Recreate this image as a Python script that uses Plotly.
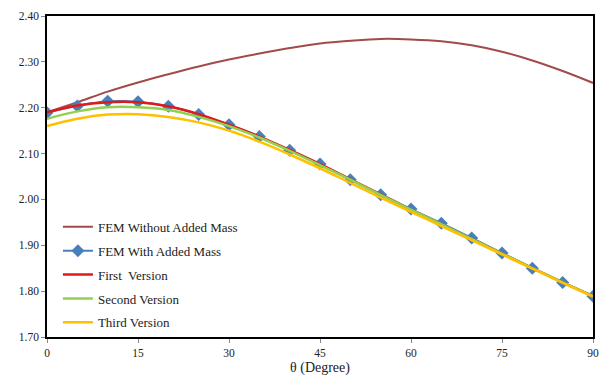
import plotly.graph_objects as go

theta = [0, 5, 10, 15, 20, 25, 30, 35, 40, 45, 50, 55, 60, 65, 70, 75, 80, 85, 90]
fem_without = [2.190, 2.212, 2.235, 2.255, 2.273, 2.290, 2.305, 2.318, 2.330, 2.340, 2.346, 2.350, 2.349, 2.345, 2.336, 2.322, 2.303, 2.280, 2.254]
fem_with = [2.189, 2.204, 2.214, 2.213, 2.203, 2.185, 2.163, 2.137, 2.107, 2.077, 2.043, 2.010, 1.979, 1.948, 1.916, 1.883, 1.850, 1.819, 1.789]
first_v = [2.190, 2.205, 2.212, 2.212, 2.203, 2.186, 2.163, 2.137, 2.108, 2.077, 2.044, 2.011, 1.978, 1.946, 1.914, 1.882, 1.850, 1.819, 1.789]
second_v = [2.176, 2.192, 2.201, 2.201, 2.195, 2.180, 2.160, 2.135, 2.106, 2.075, 2.043, 2.010, 1.978, 1.946, 1.914, 1.882, 1.850, 1.819, 1.789]
third_v = [2.160, 2.176, 2.185, 2.186, 2.180, 2.168, 2.150, 2.126, 2.098, 2.068, 2.036, 2.004, 1.973, 1.942, 1.911, 1.880, 1.849, 1.818, 1.788]

x_ticks = [0, 15, 30, 45, 60, 75, 90]
y_ticks = [1.70, 1.80, 1.90, 2.00, 2.10, 2.20, 2.30, 2.40]

SERIF = "Liberation Serif, Times New Roman, serif"

fig = go.Figure()
fig.add_trace(go.Scatter(x=theta, y=fem_without, mode="lines", name="FEM Without Added Mass",
                         line=dict(color="#A24A4C", width=2, shape="spline"), legendgroup="a"))
fig.add_trace(go.Scatter(x=theta, y=fem_with, mode="lines+markers", name="FEM With Added Mass",
                         line=dict(color="#4A7EBB", width=2, shape="spline"),
                         marker=dict(symbol="diamond", size=10, color="#4A7EBB"), legendgroup="b"))
fig.add_trace(go.Scatter(x=theta, y=first_v, mode="lines", name="First  Version",
                         line=dict(color="#E01A1A", width=2.5, shape="spline"), legendgroup="c"))
fig.add_trace(go.Scatter(x=theta, y=second_v, mode="lines", name="Second Version",
                         line=dict(color="#92D050", width=2.5, shape="spline"), legendgroup="d"))
fig.add_trace(go.Scatter(x=theta, y=third_v, mode="lines", name="Third Version",
                         line=dict(color="#FFC000", width=2.5, shape="spline"), legendgroup="e"))

axis_common = dict(showline=True, linecolor="black", linewidth=1.5, mirror=True,
                   showgrid=False, zeroline=False, ticks="outside", ticklen=4,
                   tickcolor="#888", automargin=False,
                   tickfont=dict(family=SERIF, size=11.5, color="#222"))

fig.update_layout(
    width=600, height=378,
    margin=dict(l=47, r=7, t=16, b=41),
    paper_bgcolor="white", plot_bgcolor="white",
    font=dict(family=SERIF, color="#222"),
    xaxis=dict(range=[0, 90], tickvals=x_ticks, ticktext=[str(v) for v in x_ticks],
               title=dict(text="θ (Degree)", font=dict(family=SERIF, size=14), standoff=5),
               **axis_common),
    yaxis=dict(range=[1.70, 2.40], tickvals=y_ticks, ticktext=[f"{v:.2f}" for v in y_ticks],
               **axis_common),
    legend=dict(x=0.02, y=0.39, xanchor="left", yanchor="top",
                font=dict(family=SERIF, size=13, color="#222"),
                bgcolor="rgba(0,0,0,0)", tracegroupgap=4, traceorder="grouped", itemwidth=30),
    showlegend=True,
)

fig.write_html("out.html")
